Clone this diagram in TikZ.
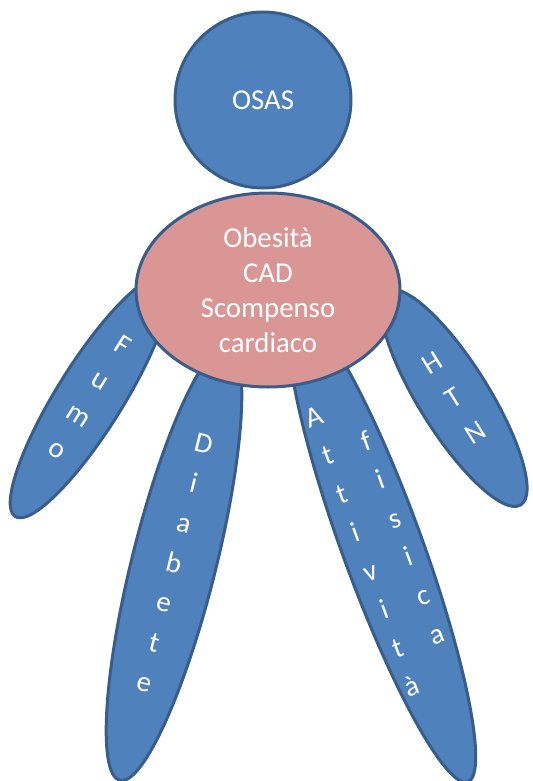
\documentclass[tikz,border=0pt]{standalone}
\usepackage{fontspec}
\setmainfont{Carlito}
\usetikzlibrary{shapes.geometric}

\definecolor{limbblue}{HTML}{4F81BD}
\definecolor{edgeblue}{HTML}{385D8A}
\definecolor{trunkpink}{HTML}{D99694}

\begin{document}
\begin{tikzpicture}[x=0.5pt, y=-0.5pt]
    % --- Styles ---
    \tikzset{
        partbase/.style={draw=edgeblue, line width=1.5pt, text=white,
            inner sep=0pt, align=center},
        limb/.style={partbase, ellipse, fill=limbblue,
            font=\fontsize{14.4}{20.5}\selectfont},
        trunk/.style={partbase, ellipse, fill=trunkpink,
            font=\fontsize{14.4}{17.5}\selectfont},
        headball/.style={partbase, circle, fill=limbblue,
            font=\fontsize{14.4}{17.5}\selectfont}
    }

    % --- Frame (pixel grid of the reference, y pointing down) ---
    \useasboundingbox (0,0) rectangle (533,781);

    % --- Drawing ---
    % 1. The four limbs (behind the trunk)
    \node[limb, rotate=-32, minimum width=33pt, minimum height=141pt]
        (fumo) at (90,397) {F\\u\\m\\o};
    \node[limb, rotate=-14, minimum width=42pt, minimum height=224pt]
        (diabete) at (174,563) {D\\i\\a\\b\\e\\t\\e};
    \node[limb, rotate=20, minimum width=40pt, minimum height=251pt]
        (attivita) at (382,546)
        {\begin{tabular}{@{}c@{\hspace{13pt}}c@{}}
            A & \\ t & f\\ t & i\\ i & s\\ v & i\\ i & c\\ t & a\\ à &
         \end{tabular}};
    \node[limb, rotate=32, minimum width=35pt, minimum height=126pt]
        (htn) at (454,398) {H\\T\\N};

    % 2. The head
    \node[headball, minimum size=88pt] (osas) at (263,100) {OSAS};

    % 3. The trunk (on top of the limbs)
    \node[trunk, minimum width=132pt, minimum height=97pt]
        (comorb) at (268,290) {Obesità\\CAD\\Scompenso\\cardiaco};

\end{tikzpicture}
\end{document}
